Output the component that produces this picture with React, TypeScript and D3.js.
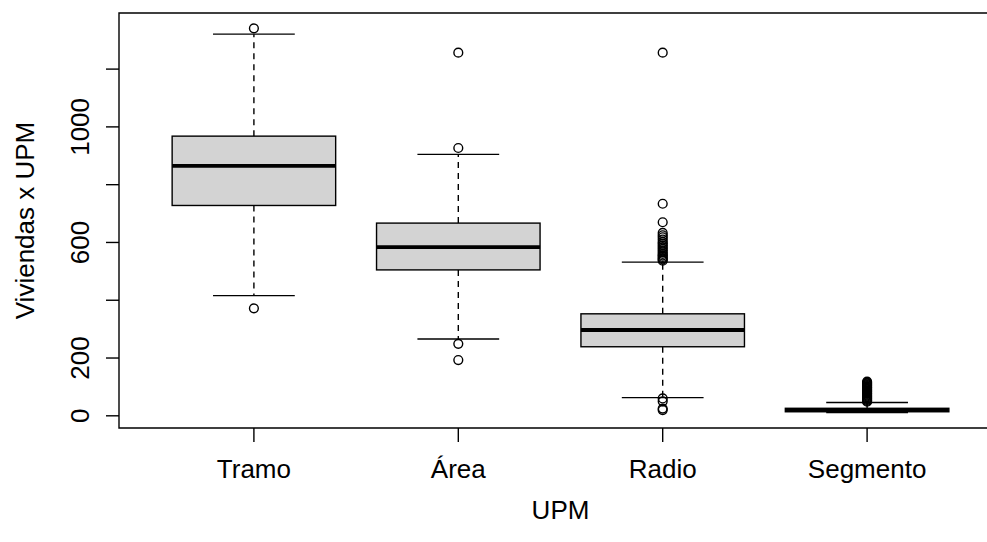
import React from "react";
import * as d3 from "d3";

const categories = ["Tramo", "Área", "Radio", "Segmento"];
const lowerWhisker = [416, 266, 63, 11];
const q1 = [728, 505, 239, 14];
const median = [865, 584, 297, 20];
const q3 = [968, 667, 353, 26];
const upperWhisker = [1321, 905, 532, 46];
const outliersTramo = [1341, 372];
const outliersArea = [1257, 927, 249, 193];
const outliersRadio = [1257, 734, 670, 633, 625, 618, 610, 602, 596, 590, 584, 578, 572, 566, 560, 555, 550, 545, 541, 537, 60, 50, 25, 20];
const outliersSegmento = [118, 115, 112, 109, 106, 103, 100, 97, 94, 91, 88, 85, 82, 79, 76, 73, 70, 67, 64, 61, 58, 55, 52, 49];
const yTicks = [0, 200, 400, 600, 800, 1000, 1200];
const yTickLabels = ["0", "200", "", "600", "", "1000", ""];
const xTitle = "UPM";
const yTitle = "Viviendas x UPM";

const W = 987;
const H = 542;
const LEFT = 119;
const RIGHT = 1002;
const TOP = 13;
const BOTTOM = 428;
const FONT = "'Liberation Sans', Arial, Helvetica, sans-serif";
const FS = 26;

export default function App() {
  const outliers = [outliersTramo, outliersArea, outliersRadio, outliersSegmento];
  const allVals = [...lowerWhisker, ...upperWhisker, ...outliers.flat()];
  const dMin = d3.min(allVals) as number;
  const dMax = d3.max(allVals) as number;
  const ext = (dMax - dMin) * 0.04;
  const y = d3.scaleLinear().domain([dMin - ext, dMax + ext]).range([BOTTOM, TOP]);
  const x = d3.scaleLinear().domain([0.34, 4.66]).range([LEFT, RIGHT]);
  const unit = x(1) - x(0);
  const boxHalf = 0.4 * unit;
  const stapleHalf = 0.2 * unit;
  const lw = 1.4;

  return (
    <svg width={W} height={H} style={{ position: "absolute", left: 0, top: 0, background: "#fff" }}>
      <rect x={0} y={0} width={W} height={H} fill="#fff" />
      {categories.map((c, i) => {
        const cx = x(i + 1);
        return (
          <g key={c}>
            <line x1={cx} x2={cx} y1={y(q3[i])} y2={y(upperWhisker[i])} stroke="#000" strokeWidth={lw} strokeDasharray="6,5" />
            <line x1={cx} x2={cx} y1={y(q1[i])} y2={y(lowerWhisker[i])} stroke="#000" strokeWidth={lw} strokeDasharray="6,5" />
            <line x1={cx - stapleHalf} x2={cx + stapleHalf} y1={y(upperWhisker[i])} y2={y(upperWhisker[i])} stroke="#000" strokeWidth={lw} />
            <line x1={cx - stapleHalf} x2={cx + stapleHalf} y1={y(lowerWhisker[i])} y2={y(lowerWhisker[i])} stroke="#000" strokeWidth={lw} />
            <rect x={cx - boxHalf} y={y(q3[i])} width={2 * boxHalf} height={y(q1[i]) - y(q3[i])} fill="#D3D3D3" stroke="#000" strokeWidth={lw} />
            <line x1={cx - boxHalf} x2={cx + boxHalf} y1={y(median[i])} y2={y(median[i])} stroke="#000" strokeWidth={3.8} />
            {outliers[i].map((v, j) => (
              <circle key={j} cx={cx} cy={y(v)} r={4.4} fill="none" stroke="#000" strokeWidth={lw} />
            ))}
          </g>
        );
      })}
      <path d={`M${RIGHT},${TOP}H${LEFT}V${BOTTOM}H${RIGHT}V${TOP}`} fill="none" stroke="#000" strokeWidth={lw} />
      {yTicks.map((t, i) => (
        <g key={t}>
          <line x1={LEFT - 13} x2={LEFT} y1={y(t)} y2={y(t)} stroke="#000" strokeWidth={lw} />
          {yTickLabels[i] && (
            <text transform={`translate(${LEFT - 30},${y(t)}) rotate(-90)`} textAnchor="middle" fontFamily={FONT} fontSize={FS} fill="#000">
              {yTickLabels[i]}
            </text>
          )}
        </g>
      ))}
      {categories.map((c, i) => (
        <g key={c}>
          <line x1={x(i + 1)} x2={x(i + 1)} y1={BOTTOM} y2={BOTTOM + 14} stroke="#000" strokeWidth={lw} />
          <text x={x(i + 1)} y={BOTTOM + 50} textAnchor="middle" fontFamily={FONT} fontSize={FS} fill="#000">
            {c}
          </text>
        </g>
      ))}
      <text x={(LEFT + RIGHT) / 2} y={BOTTOM + 91} textAnchor="middle" fontFamily={FONT} fontSize={FS} fill="#000">
        {xTitle}
      </text>
      <text transform={`translate(34,${(TOP + BOTTOM) / 2}) rotate(-90)`} textAnchor="middle" fontFamily={FONT} fontSize={FS} fill="#000">
        {yTitle}
      </text>
    </svg>
  );
}
